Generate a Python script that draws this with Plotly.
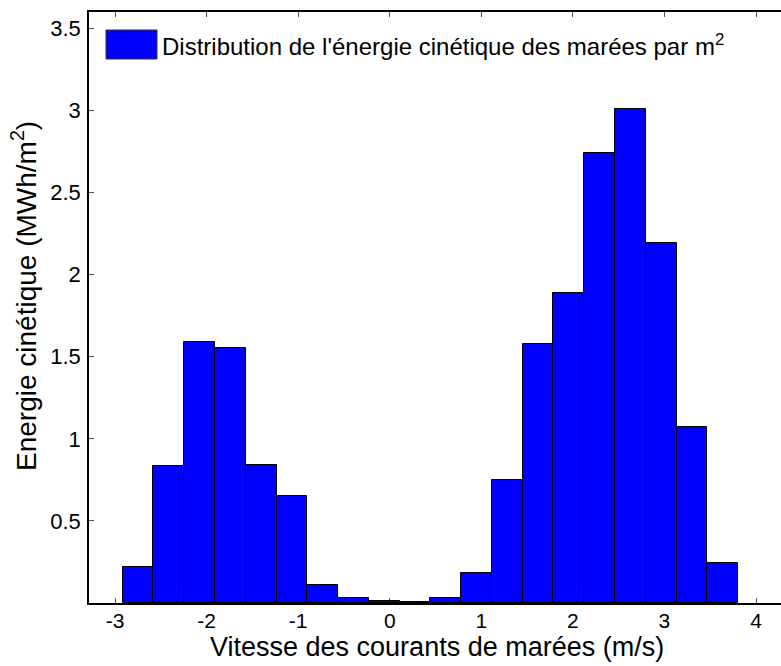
import plotly.graph_objects as go

# Bin centres (m/s) and kinetic energy per bin (MWh/m^2)
vitesse = [-2.748, -2.412, -2.076, -1.740, -1.404, -1.068, -0.732, -0.396,
           -0.060, 0.276, 0.612, 0.948, 1.284, 1.620, 1.956, 2.292,
           2.628, 2.964, 3.300, 3.636]
energie = [0.217, 0.834, 1.587, 1.556, 0.840, 0.651, 0.108, 0.032,
           0.010, 0.008, 0.032, 0.180, 0.749, 1.576, 1.891, 2.743,
           3.007, 2.195, 1.075, 0.245]

x_ticks = [-3, -2, -1, 0, 1, 2, 3, 4]
x_ticklabels = ["-3", "-2", "-1", "0", "1", "2", "3", "4"]
y_ticks = [0.5, 1, 1.5, 2, 2.5, 3, 3.5]
y_ticklabels = ["0.5", "1", "1.5", "2", "2.5", "3", "3.5"]

legend_label = "Distribution de l'énergie cinétique des marées par m<sup>2</sup>"
x_title = "Vitesse des courants de marées (m/s)"
y_title = "Energie cinétique (MWh/m<sup>2</sup>)"

FONT = "Liberation Sans, Arial, sans-serif"
W, H = 781, 666
L, R, T, B = 89, 0, 12, 63
PW, PH = W - L - R, H - T - B


def px_x(px):
    return (px - L) / PW


def px_y(py):
    return (H - B - py) / PH


fig = go.Figure()
fig.add_trace(go.Bar(
    x=vitesse, y=energie, name=legend_label,
    marker=dict(color="#0000FF", line=dict(color="black", width=1)),
    showlegend=False,
))

fig.update_layout(
    width=W, height=H,
    margin=dict(l=L, r=R, t=T, b=B),
    paper_bgcolor="white", plot_bgcolor="white",
    bargap=0,
    font=dict(family=FONT, color="black"),
    xaxis=dict(
        range=[-3.284, 4.273], tickvals=x_ticks, ticktext=x_ticklabels,
        ticks="inside", ticklen=5, tickwidth=1, tickcolor="#555555",
        showline=True, linecolor="black", linewidth=1.5, mirror="ticks",
        showgrid=False, zeroline=False, layer="below traces",
        tickfont=dict(size=21, family=FONT, color="black"),
        ticklabelstandoff=-2,
    ),
    yaxis=dict(
        range=[0, 3.6], tickvals=y_ticks, ticktext=y_ticklabels,
        ticks="inside", ticklen=5, tickwidth=1, tickcolor="#555555",
        showline=True, linecolor="black", linewidth=1.5, mirror=False,
        showgrid=False, zeroline=False,
        tickfont=dict(size=22, family=FONT, color="black"),
        ticklabelstandoff=2,
    ),
)

# Axis titles as annotations for exact placement
fig.add_annotation(xref="paper", yref="paper", x=px_x(437), y=px_y(647),
                   xanchor="center", yanchor="middle", showarrow=False,
                   text=x_title, font=dict(size=27, family=FONT, color="black"))
fig.add_annotation(xref="paper", yref="paper", x=px_x(24), y=px_y(296),
                   xanchor="center", yanchor="middle", showarrow=False, textangle=-90,
                   text=y_title, font=dict(size=28, family=FONT, color="black"))

# Legend drawn as patch + text (MATLAB style, no box)
fig.add_shape(type="rect", xref="paper", yref="paper",
              x0=px_x(106), x1=px_x(157), y0=px_y(59), y1=px_y(30),
              fillcolor="#0000FF", line=dict(color="#333333", width=1))
fig.add_annotation(xref="paper", yref="paper", x=px_x(160), y=px_y(45),
                   xanchor="left", yanchor="middle", showarrow=False,
                   text=legend_label, font=dict(size=24, family=FONT, color="black"))

fig.write_html("out.html",
               config={"displayModeBar": False},
               post_script="document.body.style.margin='0';document.body.style.overflow='hidden';")
